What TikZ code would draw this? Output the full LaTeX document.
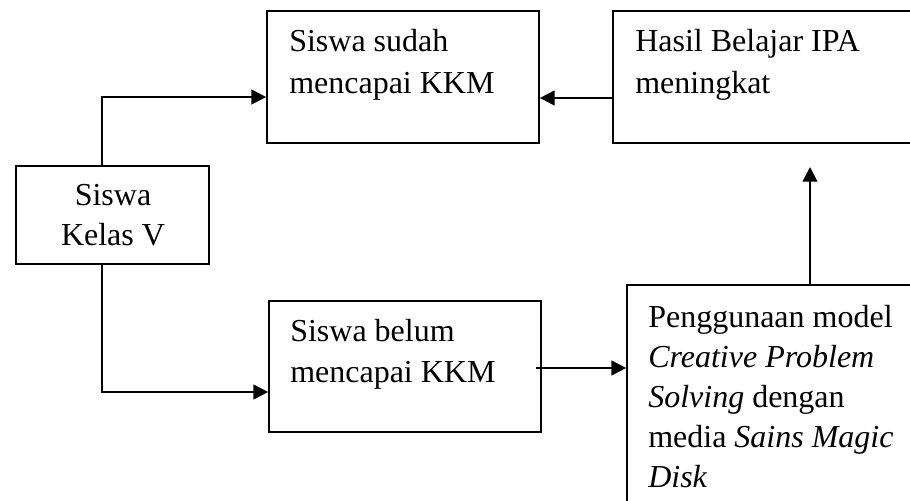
\documentclass[tikz,border=0pt]{standalone}
\usepackage{fontspec}
\setmainfont{Liberation Serif}
\usetikzlibrary{arrows.meta}
\begin{document}
\begin{tikzpicture}[x=0.75pt,y=-0.75pt,
  box/.style={draw,line width=1.3pt,rectangle,inner sep=0pt},
  txt/.style={inner sep=0pt,font=\fontsize{24}{30}\selectfont},
  arr/.style={line width=1.5pt,-{Triangle[length=11pt,width=11pt]}},
  ln/.style={line width=1.5pt}]
\useasboundingbox (0,0) rectangle (910,500);
% boxes
\node[box,minimum width=204pt,minimum height=99pt] (A) at (403,77) {};
\node[box,minimum width=234pt,minimum height=99pt] (B) at (769,77) {};
\node[box,minimum width=144.75pt,minimum height=73.5pt] (C) at (112.5,215) {};
\node[box,minimum width=204pt,minimum height=98.25pt] (D) at (405,366.5) {};
\node[box,minimum width=227.25pt,minimum height=183.75pt] (E) at (778.5,407.5) {};
% texts
\node[txt,anchor=base west] (a1) at (289,51) {Siswa sudah};
\node[txt,anchor=base west] (a2) at (289,93) {mencapai KKM};
\node[txt,anchor=base west] (b1) at (635,51) {Hasil Belajar IPA};
\node[txt,anchor=base west] (b2) at (635,93) {meningkat};
\node[txt,anchor=base] (c1t) at (113,205) {Siswa};
\node[txt,anchor=base] (c2t) at (113,245) {Kelas V};
\node[txt,anchor=base west] (d1) at (290,341) {Siswa belum};
\node[txt,anchor=base west] (d2) at (290,382) {mencapai KKM};
\node[txt,anchor=base west] (e1) at (648,327) {Penggunaan model};
\node[txt,anchor=base west] (e2) at (648,367) {\itshape Creative Problem};
\node[txt,anchor=base west] (e3) at (648,407) {\textit{Solving} dengan};
\node[txt,anchor=base west] (e4) at (648,447) {media \textit{Sains Magic}};
\node[txt,anchor=base west] (e5) at (648,487) {\itshape Disk};
% connectors
\coordinate (k1) at (102,97);
\draw[arr] (k1 |- C.north) -- (k1) -- (k1 -| A.west);
\coordinate (k2) at (613,98);
\draw[arr] (k2 -| B.west) -- (k2 -| A.east);
\coordinate (k3) at (102,392);
\draw[arr] (k3 |- C.south) -- (k3) -- (k3 -| D.west);
\coordinate (k4) at (536,368);
\draw[arr] (k4) -- (k4 -| E.west);
\coordinate (k5) at (810,167);
\draw[arr] (k5 |- E.north) -- (k5);
\end{tikzpicture}
\end{document}
